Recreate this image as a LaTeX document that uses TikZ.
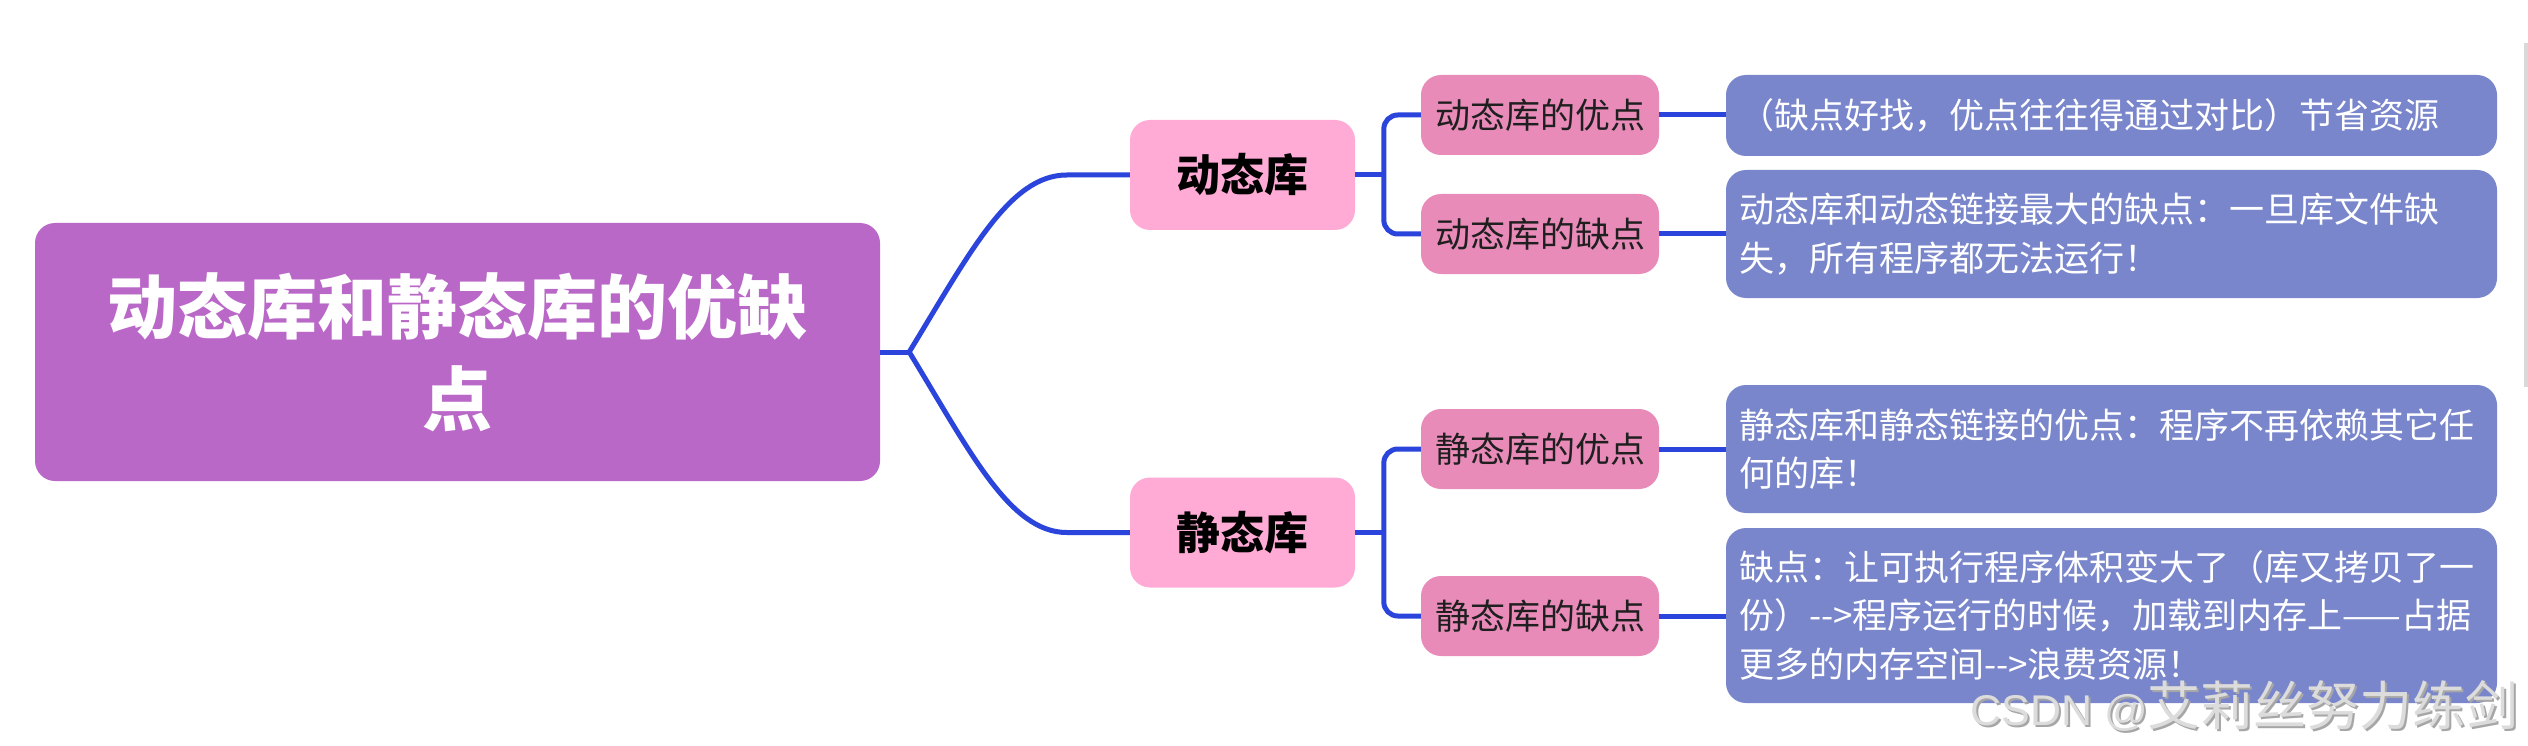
\documentclass[tikz,border=0pt]{standalone}
\usepackage{fontspec}
\setmainfont{Noto Sans CJK SC}
\newfontfamily\wmfont{Liberation Sans}
\usetikzlibrary{calc}
\definecolor{rootc}{HTML}{BA68C8}
\definecolor{lvone}{HTML}{FFABD6}
\definecolor{lvtwo}{HTML}{E98BB9}
\definecolor{leafc}{HTML}{7986CB}
\definecolor{linec}{HTML}{2A44DC}
\definecolor{wmlight}{HTML}{DCDCDC}
\definecolor{wmdark}{HTML}{A6A6A6}
\begin{document}
\begin{tikzpicture}[x=1pt,y=-1pt,
  box/.style={rounded corners=20pt, inner sep=0pt, anchor=center},
  rootbox/.style={box, fill=rootc, text=white, minimum width=845pt, minimum height=258pt,
    font=\fontsize{70}{92}\selectfont\bfseries, align=center},
  onebox/.style={box, fill=lvone, text=black, minimum width=225pt, minimum height=110pt,
    font=\fontsize{44}{52}\selectfont\bfseries},
  twobox/.style={box, fill=lvtwo, text=black!88, minimum width=238pt, minimum height=80pt,
    font=\fontsize{35}{42}\selectfont},
  textbox/.style={box, fill=leafc, text=white, inner xsep=13pt, text width=745pt, align=left,
    font=\fontsize{35}{48.5}\selectfont},
  conn/.style={draw=linec, line width=5pt},
  wm/.style={anchor=east, inner sep=0pt},
]
\useasboundingbox (0,0) rectangle (2528,746);
\fill[white] (0,0) rectangle (2528,746);
\fill[black!15] (2524,43) rectangle (2528,387);

\node[rootbox] (root) at (457.5,352) {动态库和静态库的优缺\\点};
\node[onebox] (dyn) at (1242.5,175) {动态库};
\node[onebox] (sta) at (1242.5,532.5) {静态库};
\node[twobox] (dA) at (1540,115) {动态库的优点};
\node[twobox] (dB) at (1540,234) {动态库的缺点};
\node[twobox] (sA) at (1540,449) {静态库的优点};
\node[twobox] (sB) at (1540,616) {静态库的缺点};
\node[textbox, minimum height=81pt] (t1) at (2111.5,115.5) {（缺点好找，优点往往得通过对比）节省资源};
\node[textbox, minimum height=128pt] (t2) at (2111.5,234) {动态库和动态链接最大的缺点：一旦库文件缺\\失，所有程序都无法运行！};
\node[textbox, minimum height=128pt] (t3) at (2111.5,449) {静态库和静态链接的优点：程序不再依赖其它任\\何的库！};
\node[textbox, minimum height=175pt] (t4) at (2111.5,615.5) {缺点：让可执行程序体积变大了（库又拷贝了一\\份）-{}->程序运行的时候，加载到内存上——占据\\更多的内存空间-{}->浪费资源！};

\coordinate (J) at ($(root.east)+(29,0)$);
\draw[conn] (root.east) -- (J);
\draw[conn] (J) .. controls ($(J)+(61,-100)$) and ($(dyn.west)+(-120,0)$) .. ($(dyn.west)+(-63,0)$) -- (dyn.west);
\draw[conn] (J) .. controls ($(J)+(61,100)$) and ($(sta.west)+(-120,0)$) .. ($(sta.west)+(-63,0)$) -- (sta.west);

\draw[conn] (dyn.east) -- ($(dyn.east)+(29,0)$);
\draw[conn, rounded corners=14pt] (dA.west) -- ++(-37,0) |- (dB.west);
\draw[conn] (sta.east) -- ($(sta.east)+(29,0)$);
\draw[conn, rounded corners=14pt] (sA.west) -- ++(-37,0) |- (sB.west);

\draw[conn] (dA.east) -- (dA.east -| t1.west);
\draw[conn] (dB.east) -- (dB.east -| t2.west);
\draw[conn] (sA.east) -- (sA.east -| t3.west);
\draw[conn] (sB.east) -- (sB.east -| t4.west);

\node[wm, text=wmdark] (wmshadow) at (2521,708) {\fontsize{43}{50}\selectfont\wmfont CSDN @\fontsize{53}{60}\selectfont\rmfamily 艾莉丝努力练剑};
\node[wm, text=wmlight] (wmtext) at (2519,706) {\fontsize{43}{50}\selectfont\wmfont CSDN @\fontsize{53}{60}\selectfont\rmfamily 艾莉丝努力练剑};
\end{tikzpicture}
\end{document}
